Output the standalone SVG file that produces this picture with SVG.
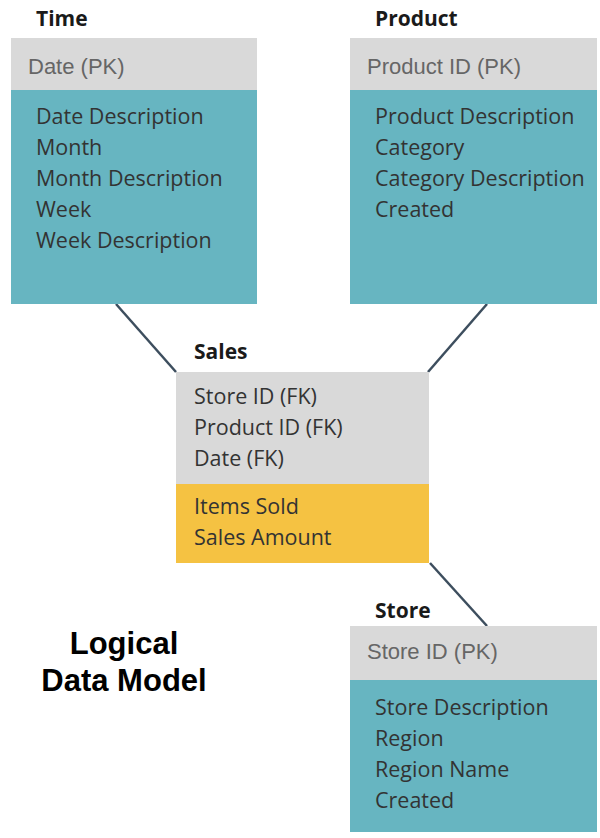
<svg xmlns="http://www.w3.org/2000/svg" width="600" height="838" viewBox="0 0 600 838">
<style>
.title{font-family:"Open Sans","Liberation Sans",sans-serif;font-weight:bold;font-size:21px;fill:#1a1a1a}
.pk{font-family:"Liberation Sans",Arial,sans-serif;font-size:22px;fill:#666}
.body{font-family:"Open Sans","Liberation Sans",sans-serif;font-size:21.5px;fill:#333}
.hdr{fill:#d9d9d9}
.teal{fill:#67b5c1}
.gold{fill:#f5c242}
.conn{stroke:#3d4e5e;stroke-width:2.5;fill:none}
.big{font-family:"Liberation Sans",Arial,sans-serif;font-weight:bold;font-size:31px;fill:#000;text-anchor:middle}
</style>
<g id="connectors">
<line class="conn" x1="116" y1="304" x2="176" y2="372"/>
<line class="conn" x1="487" y1="304" x2="428" y2="372"/>
<line class="conn" x1="430" y1="563" x2="487" y2="626"/>
</g>
<g id="time">
<text class="title" x="36" y="26">Time</text>
<rect class="hdr" x="11" y="38" width="246" height="52"/>
<rect class="teal" x="11" y="90" width="246" height="214"/>
<text class="pk" x="28" y="74">Date (PK)</text>
<text class="body" x="36" y="124">Date Description</text>
<text class="body" x="36" y="155">Month</text>
<text class="body" x="36" y="186">Month Description</text>
<text class="body" x="36" y="217">Week</text>
<text class="body" x="36" y="248">Week Description</text>
</g>
<g id="product">
<text class="title" x="375" y="26">Product</text>
<rect class="hdr" x="350" y="38" width="247" height="52"/>
<rect class="teal" x="350" y="90" width="247" height="214"/>
<text class="pk" x="367" y="74">Product ID (PK)</text>
<text class="body" x="375" y="124">Product Description</text>
<text class="body" x="375" y="155">Category</text>
<text class="body" x="375" y="186">Category Description</text>
<text class="body" x="375" y="217">Created</text>
</g>
<g id="sales">
<text class="title" x="194" y="359">Sales</text>
<rect class="hdr" x="176" y="372" width="253" height="112"/>
<rect class="gold" x="176" y="484" width="253" height="79"/>
<text class="body" x="194" y="404">Store ID (FK)</text>
<text class="body" x="194" y="435">Product ID (FK)</text>
<text class="body" x="194" y="466">Date (FK)</text>
<text class="body" x="194" y="514">Items Sold</text>
<text class="body" x="194" y="545">Sales Amount</text>
</g>
<g id="store">
<text class="title" x="375" y="618">Store</text>
<rect class="hdr" x="350" y="626" width="247" height="54"/>
<rect class="teal" x="350" y="680" width="247" height="152"/>
<text class="pk" x="367" y="659">Store ID (PK)</text>
<text class="body" x="375" y="715">Store Description</text>
<text class="body" x="375" y="746">Region</text>
<text class="body" x="375" y="777">Region Name</text>
<text class="body" x="375" y="808">Created</text>
</g>
<g id="caption">
<text class="big" x="124" y="654">Logical</text>
<text class="big" x="124" y="691">Data Model</text>
</g>
</svg>
